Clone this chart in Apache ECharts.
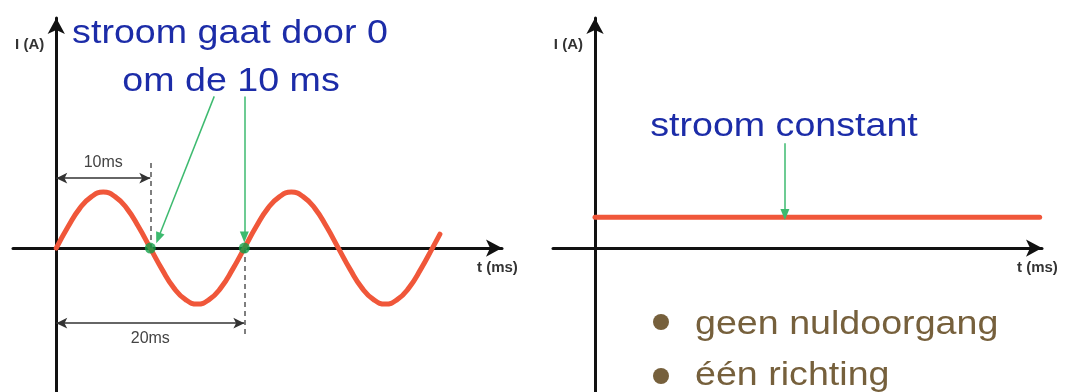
<!DOCTYPE html>
<html>
<head>
<meta charset="utf-8">
<title>wisselstroom / gelijkstroom</title>
<script src="https://cdn.jsdelivr.net/npm/echarts@6/dist/echarts.min.js"></script>
<style>
    html, body { margin: 0; padding: 0; background: #fff; }
    #main { width: 1079px; height: 392px; }
</style>
</head>
<body>
<div id="main"></div>
<script>
// wisselstroom: tijd (ms) en stroom (amplitude = 1)
var acTime = [0, 1.25, 2.5, 3.75, 5, 6.25, 7.5, 8.75, 10, 11.25, 12.5, 13.75, 15, 16.25, 17.5, 18.75,
    20, 21.25, 22.5, 23.75, 25, 26.25, 27.5, 28.75, 30, 31.25, 32.5, 33.75, 35, 36.25, 37.5, 38.75, 40, 40.8];
var acCurrent = [0, 0.38, 0.71, 0.92, 1, 0.92, 0.71, 0.38, 0, -0.38, -0.71, -0.92, -1, -0.92, -0.71, -0.38,
    0, 0.38, 0.71, 0.92, 1, 0.92, 0.71, 0.38, 0, -0.38, -0.71, -0.92, -1, -0.92, -0.71, -0.38, 0, 0.25];
// gelijkstroom
var dcTime = [0, 47.3];
var dcCurrent = [0.55, 0.55];
// nuldoorgangen die aangewezen worden
var zeroTimes = [10, 20];

var FONT = '"Liberation Sans", Arial, sans-serif';
var RED = '#f0573a';
var BLUE = '#1c2ca8';
var GREEN = '#3dba6f';
var BROWN = '#76603c';

function pairs(xs, ys) {
    var out = [];
    for (var i = 0; i < xs.length; i++) {
        out.push([xs[i], ys[i]]);
    }
    return out;
}

function makeX(idx, min, max) {
    return {
        type: 'value', gridIndex: idx, min: min, max: max,
        name: 't (ms)', nameLocation: 'end', nameGap: -25,
        nameTextStyle: {
            fontFamily: FONT, fontSize: 15, fontWeight: 'bold', color: '#333',
            align: 'left', verticalAlign: 'top', padding: [12, 0, 0, 0]
        },
        axisLine: {
            onZero: true, symbol: ['none', 'arrow'], symbolSize: [13, 16],
            lineStyle: { color: '#111', width: 3 }
        },
        axisTick: { show: false },
        axisLabel: { show: false },
        splitLine: { show: false }
    };
}

function makeY(idx) {
    return {
        type: 'value', gridIndex: idx, min: -2.57, max: 4.11,
        name: 'I (A)', nameLocation: 'end', nameGap: -27,
        nameTextStyle: {
            fontFamily: FONT, fontSize: 15, fontWeight: 'bold', color: '#333',
            align: 'right', verticalAlign: 'middle', padding: [0, 12, 0, 0]
        },
        axisLine: {
            onZero: true, symbol: ['none', 'arrow'], symbolSize: [13, 16],
            lineStyle: { color: '#111', width: 3 }
        },
        axisTick: { show: false },
        axisLabel: { show: false },
        splitLine: { show: false }
    };
}

function blueText(x, y, txt) {
    return {
        type: 'text', x: x, y: y, scaleX: 1.14,
        style: { text: txt, fontFamily: FONT, fontSize: 33, fill: BLUE, align: 'center', verticalAlign: 'middle' }
    };
}

var chart = echarts.init(document.getElementById('main'));

var option = {
    backgroundColor: '#fff',
    animation: false,
    grid: [
        { left: 13, right: 577, top: 18, bottom: 0 },
        { left: 553, right: 37, top: 18, bottom: 0 }
    ],
    xAxis: [makeX(0, -4.6, 47.4), makeX(1, -4.47, 47.55)],
    yAxis: [makeY(0), makeY(1)],
    series: [{
        // sinus
        type: 'line', xAxisIndex: 0, yAxisIndex: 0,
        data: pairs(acTime, acCurrent),
        smooth: true, showSymbol: false, z: 3,
        lineStyle: { color: RED, width: 5, cap: 'round' },
        markLine: {
            silent: true, symbol: ['none', 'none'],
            label: { show: false },
            data: [
                // maatlijn 10ms
                [{ coord: [0, 1.25], symbol: 'arrow', symbolSize: [8, 11],
                    lineStyle: { color: '#333', width: 1.5, type: 'solid' },
                    label: { show: true, formatter: '10ms', position: 'insideMiddleTop', distance: 8,
                        fontFamily: FONT, fontSize: 16, color: '#444' } },
                    { coord: [10, 1.25], symbol: 'arrow', symbolSize: [8, 11] }],
                // maatlijn 20ms
                [{ coord: [0, -1.34], symbol: 'arrow', symbolSize: [8, 11],
                    lineStyle: { color: '#333', width: 1.5, type: 'solid' },
                    label: { show: true, formatter: '20ms', position: 'insideMiddleBottom', distance: 7,
                        fontFamily: FONT, fontSize: 16, color: '#444' } },
                    { coord: [20, -1.34], symbol: 'arrow', symbolSize: [8, 11] }],
                // stippellijnen
                [{ coord: [10, 1.52], lineStyle: { color: '#555', width: 1.5, type: [5, 4] } }, { coord: [10, 0] }],
                [{ coord: [20, 0], lineStyle: { color: '#555', width: 1.5, type: [5, 4] } }, { coord: [20, -1.6] }],
                // groene pijlen
                [{ coord: [16.8, 2.71], lineStyle: { color: GREEN, width: 1.5, type: 'solid' } },
                    { coord: [10.85, 0.18], symbol: 'triangle', symbolSize: [9, 11] }],
                [{ coord: [20, 2.71], lineStyle: { color: GREEN, width: 1.5, type: 'solid' } },
                    { coord: [20, 0.2], symbol: 'triangle', symbolSize: [9, 11] }]
            ]
        }
    }, {
        // nuldoorgangen
        type: 'scatter', xAxisIndex: 0, yAxisIndex: 0,
        data: pairs(zeroTimes, [0, 0]),
        symbolSize: 11, z: 5,
        itemStyle: { color: '#13a04a' }
    }, {
        // gelijkstroom
        type: 'line', xAxisIndex: 1, yAxisIndex: 1,
        data: pairs(dcTime, dcCurrent),
        showSymbol: false, z: 3,
        lineStyle: { color: RED, width: 5, cap: 'round' },
        markLine: {
            silent: true, symbol: ['none', 'triangle'], symbolSize: [9, 11],
            label: { show: false },
            lineStyle: { color: GREEN, width: 1.5, type: 'solid' },
            data: [[{ coord: [20.2, 1.875] }, { coord: [20.2, 0.6] }]]
        }
    }],
    graphic: [
        blueText(230, 34, 'stroom gaat door 0'),
        blueText(231, 82, 'om de 10 ms'),
        blueText(784, 127, 'stroom constant'),
        { type: 'circle', shape: { cx: 661, cy: 322, r: 8 }, style: { fill: BROWN } },
        { type: 'circle', shape: { cx: 661, cy: 376, r: 8 }, style: { fill: BROWN } },
        { type: 'text', x: 695, y: 325, scaleX: 1.14,
            style: { text: 'geen nuldoorgang', fontFamily: FONT, fontSize: 33, fill: BROWN, align: 'left', verticalAlign: 'middle' } },
        { type: 'text', x: 695, y: 376, scaleX: 1.14,
            style: { text: 'één richting', fontFamily: FONT, fontSize: 33, fill: BROWN, align: 'left', verticalAlign: 'middle' } }
    ]
};

chart.setOption(option);
</script>
</body>
</html>
